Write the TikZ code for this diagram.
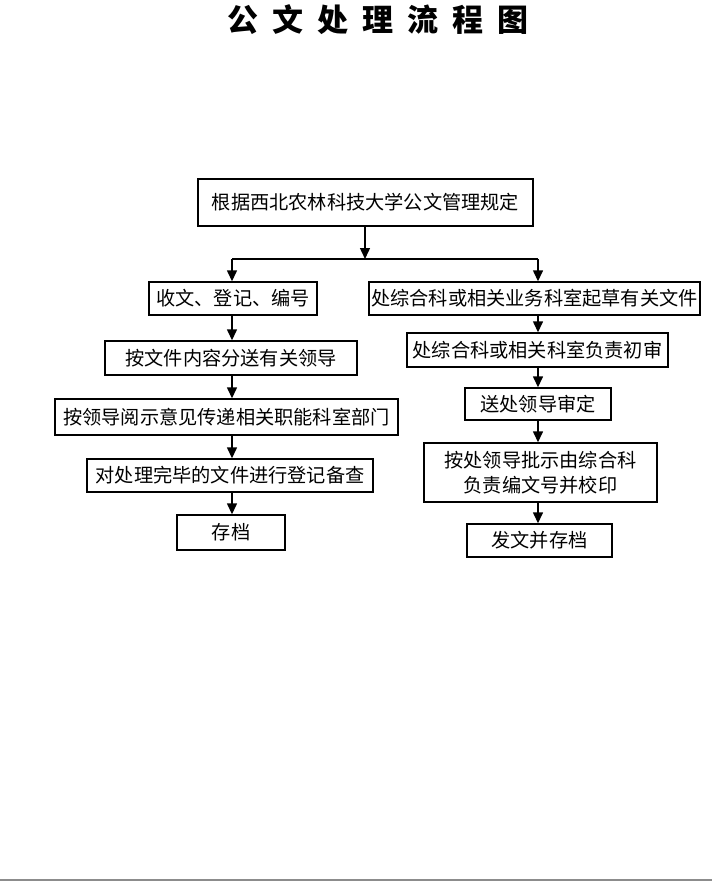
\documentclass[tikz,border=0pt]{standalone}
\usepackage{fontspec}
\newfontfamily\cjk{Noto Sans CJK SC}
\usetikzlibrary{arrows.meta}
\tikzset{
  box/.style={draw=black, line width=1.4pt, inner sep=0pt, align=center,
    font=\cjk\fontsize{19.2}{25}\selectfont},
  arr/.style={line width=1.4pt, -{Triangle[length=11pt,width=10pt]}},
  ln/.style={line width=1.4pt},
}
\begin{document}
\begin{tikzpicture}[x=1pt,y=-1pt]
\useasboundingbox (0,0) rectangle (712,894);
% title
\node (title) at (378,20) {\cjk\bfseries\fontsize{31}{32}\selectfont
  公\hspace{14pt}文\hspace{14pt}处\hspace{14pt}理\hspace{14pt}流\hspace{14pt}程\hspace{14pt}图};
% boxes
\node[box, minimum width=335pt, minimum height=47pt] (top) at (365.5,202.5) {根据西北农林科技大学公文管理规定};
\node[box, minimum width=168pt, minimum height=33pt] (L1) at (233,298.5) {收文、登记、编号};
\node[box, minimum width=252pt, minimum height=34pt] (L2) at (231,358) {按文件内容分送有关领导};
\node[box, minimum width=343pt, minimum height=36pt] (L3) at (226.5,417) {按领导阅示意见传递相关职能科室部门};
\node[box, minimum width=286pt, minimum height=33pt] (L4) at (230,475.5) {对处理完毕的文件进行登记备查};
\node[box, minimum width=108pt, minimum height=35pt] (L5) at (231,532.5) {存档};
\node[box, minimum width=331pt, minimum height=33pt] (R1) at (534.5,298.5) {处综合科或相关业务科室起草有关文件};
\node[box, minimum width=261pt, minimum height=34pt] (R2) at (537.5,350) {处综合科或相关科室负责初审};
\node[box, minimum width=146pt, minimum height=32pt] (R3) at (538,404) {送处领导审定};
\node[box, minimum width=233pt, minimum height=59pt] (R4) at (540.5,472.5) {按处领导批示由综合科\\负责编文号并校印};
\node[box, minimum width=145pt, minimum height=33pt] (R5) at (539.5,540.5) {发文并存档};
% junction coordinates
\coordinate (jm) at (365,259);
\coordinate (jl) at (232,259);
\coordinate (jr) at (538,259);
% connectors
\draw[arr] (top.south -| jm) -- (jm);
\draw[ln] (jl) -- (jr);
\draw[arr] (jl) -- (L1.north -| jl);
\draw[arr] (jr) -- (R1.north -| jr);
\draw[arr] (L1.south -| jl) -- (L2.north -| jl);
\draw[arr] (L2.south -| jl) -- (L3.north -| jl);
\draw[arr] (L3.south -| jl) -- (L4.north -| jl);
\draw[arr] (L4.south -| jl) -- (L5.north -| jl);
\draw[arr] (R1.south -| jr) -- (R2.north -| jr);
\draw[arr] (R2.south -| jr) -- (R3.north -| jr);
\draw[arr] (R3.south -| jr) -- (R4.north -| jr);
\draw[arr] (R4.south -| jr) -- (R5.north -| jr);
% page edge line
\draw[black!45, line width=1.2pt] (0,880) -- (712,880);
\end{tikzpicture}
\end{document}
